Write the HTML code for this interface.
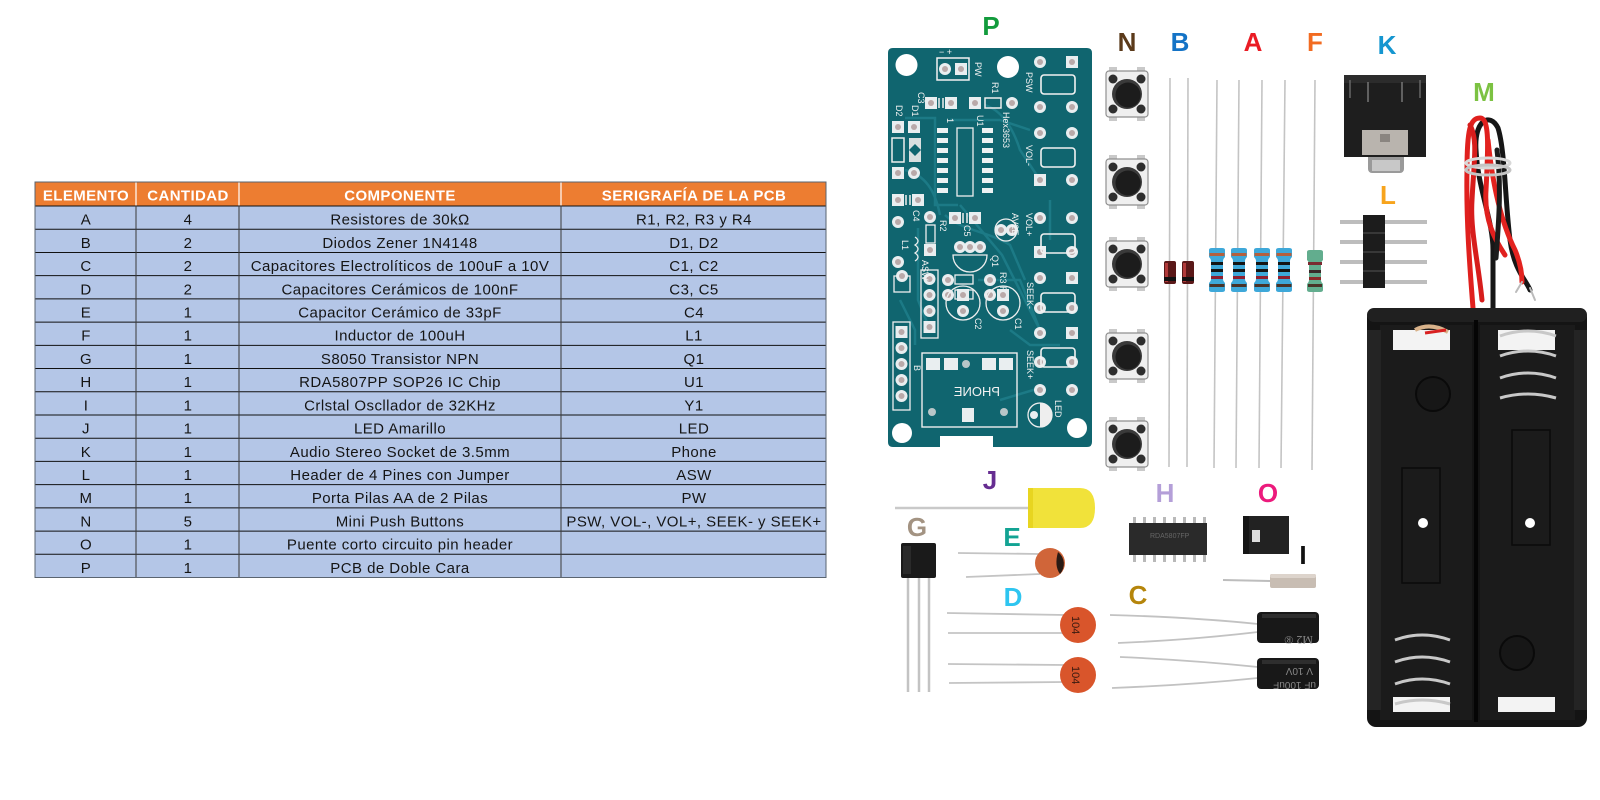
<!DOCTYPE html>
<html><head><meta charset="utf-8"><style>
html,body{margin:0;padding:0;background:#fff;width:1600px;height:800px;overflow:hidden}
svg{display:block}
.h{font-family:"Liberation Sans",sans-serif;font-weight:bold;font-size:15px;fill:#fff;letter-spacing:0.4px}
.t{font-family:"Liberation Sans",sans-serif;font-size:15px;fill:#151515;letter-spacing:0.45px}
.lb{font-family:"Liberation Sans",sans-serif;font-weight:bold;font-size:26px}
.sk{font-family:"Liberation Sans",sans-serif;font-size:9px;fill:#f2f2f2}
</style></head><body>
<svg width="1600" height="800" viewBox="0 0 1600 800" xmlns="http://www.w3.org/2000/svg">
<defs>
<g id="btn">
<rect x="-18" y="-27" width="8" height="5" fill="#c9c9c9"/>
<rect x="10" y="-27" width="8" height="5" fill="#c9c9c9"/>
<rect x="-18" y="22" width="8" height="5" fill="#c9c9c9"/>
<rect x="10" y="22" width="8" height="5" fill="#c9c9c9"/>
<rect x="-21" y="-23" width="42" height="46" rx="3" fill="#efefef" stroke="#8f8f8f" stroke-width="1.2"/>
<circle cx="-14" cy="-15" r="4.5" fill="#2e2e2e"/>
<circle cx="14" cy="-15" r="4.5" fill="#2e2e2e"/>
<circle cx="-14" cy="15" r="4.5" fill="#2e2e2e"/>
<circle cx="14" cy="15" r="4.5" fill="#2e2e2e"/>
<circle r="15" fill="#3a3a3a"/>
<circle r="12.5" cx="1" cy="1" fill="#1c1c1c"/>
</g>
<g id="res">
<path d="M-8,-20 Q-8,-22 -5,-22 H5 Q8,-22 8,-20 V-13 Q6,-11 6,-9 V9 Q6,11 8,13 V20 Q8,22 5,22 H-5 Q-8,22 -8,20 V13 Q-6,11 -6,9 V-9 Q-6,-11 -8,-13Z" fill="#3ea8d9"/>
<rect x="-7.5" y="-17" width="15" height="3" fill="#b4603e"/>
<rect x="-6" y="-8" width="12" height="3" fill="#141414"/>
<rect x="-6" y="-1" width="12" height="3" fill="#141414"/>
<rect x="-6" y="6" width="12" height="3" fill="#8e1f30"/>
<rect x="-7.5" y="14" width="15" height="3" fill="#4a3328"/>
</g>
<g id="pad"><circle r="6" fill="#e9eef0"/><circle r="3" fill="#b9a9a9"/></g>
<g id="sq"><rect x="-6" y="-6" width="12" height="12" fill="#e9eef0"/><circle r="3" fill="#b9a9a9"/></g>
<g id="bo"><rect x="-17" y="-9" width="34" height="19" rx="3" fill="none" stroke="#f2f2f2" stroke-width="1.6"/></g>
</defs>

<!-- ================= TABLE ================= -->
<rect x="35" y="182" width="791" height="24" fill="#ed7d31"/>
<rect x="35" y="206" width="791" height="371.5" fill="#b4c6e7"/>
<g stroke="#ffffff" stroke-width="1.2">
<line x1="136" y1="182" x2="136" y2="206"/><line x1="239" y1="182" x2="239" y2="206"/><line x1="561" y1="182" x2="561" y2="206"/>
</g>
<g stroke="#111" stroke-width="1">
<line x1="35" y1="206" x2="826" y2="206"/>
<line x1="35" y1="229.22" x2="826" y2="229.22"/>
<line x1="35" y1="252.44" x2="826" y2="252.44"/>
<line x1="35" y1="275.66" x2="826" y2="275.66"/>
<line x1="35" y1="298.88" x2="826" y2="298.88"/>
<line x1="35" y1="322.1" x2="826" y2="322.1"/>
<line x1="35" y1="345.32" x2="826" y2="345.32"/>
<line x1="35" y1="368.54" x2="826" y2="368.54"/>
<line x1="35" y1="391.76" x2="826" y2="391.76"/>
<line x1="35" y1="414.98" x2="826" y2="414.98"/>
<line x1="35" y1="438.2" x2="826" y2="438.2"/>
<line x1="35" y1="461.42" x2="826" y2="461.42"/>
<line x1="35" y1="484.64" x2="826" y2="484.64"/>
<line x1="35" y1="507.86" x2="826" y2="507.86"/>
<line x1="35" y1="531.08" x2="826" y2="531.08"/>
<line x1="35" y1="554.3" x2="826" y2="554.3"/>
</g>
<g stroke="#3a3a3a" stroke-width="1">
<line x1="136" y1="206" x2="136" y2="577.5"/><line x1="239" y1="206" x2="239" y2="577.5"/><line x1="561" y1="206" x2="561" y2="577.5"/>
</g>
<g stroke="#5a6470" stroke-width="1" fill="none">
<rect x="35" y="182" width="791" height="395.5"/>
</g>

<g class="h" text-anchor="middle">
<text x="86" y="200.7">ELEMENTO</text>
<text x="188" y="200.7">CANTIDAD</text>
<text x="400" y="200.7">COMPONENTE</text>
<text x="694" y="200.7">SERIGRAFÍA DE LA PCB</text>
</g>
<g class="t" text-anchor="middle">
<text x="86" y="224.6">A</text><text x="188" y="224.6">4</text><text x="400" y="224.6">Resistores de 30kΩ</text><text x="694" y="224.6">R1, R2, R3 y R4</text>
<text x="86" y="247.8">B</text><text x="188" y="247.8">2</text><text x="400" y="247.8">Diodos Zener 1N4148</text><text x="694" y="247.8">D1, D2</text>
<text x="86" y="271">C</text><text x="188" y="271">2</text><text x="400" y="271">Capacitores Electrolíticos de 100uF a 10V</text><text x="694" y="271">C1, C2</text>
<text x="86" y="294.3">D</text><text x="188" y="294.3">2</text><text x="400" y="294.3">Capacitores Cerámicos de 100nF</text><text x="694" y="294.3">C3, C5</text>
<text x="86" y="317.5">E</text><text x="188" y="317.5">1</text><text x="400" y="317.5">Capacitor Cerámico de 33pF</text><text x="694" y="317.5">C4</text>
<text x="86" y="340.7">F</text><text x="188" y="340.7">1</text><text x="400" y="340.7">Inductor de 100uH</text><text x="694" y="340.7">L1</text>
<text x="86" y="363.9">G</text><text x="188" y="363.9">1</text><text x="400" y="363.9">S8050 Transistor NPN</text><text x="694" y="363.9">Q1</text>
<text x="86" y="387.1">H</text><text x="188" y="387.1">1</text><text x="400" y="387.1">RDA5807PP SOP26 IC Chip</text><text x="694" y="387.1">U1</text>
<text x="86" y="410.4">I</text><text x="188" y="410.4">1</text><text x="400" y="410.4">Crlstal Oscllador de 32KHz</text><text x="694" y="410.4">Y1</text>
<text x="86" y="433.6">J</text><text x="188" y="433.6">1</text><text x="400" y="433.6">LED Amarillo</text><text x="694" y="433.6">LED</text>
<text x="86" y="456.8">K</text><text x="188" y="456.8">1</text><text x="400" y="456.8">Audio Stereo Socket de 3.5mm</text><text x="694" y="456.8">Phone</text>
<text x="86" y="480">L</text><text x="188" y="480">1</text><text x="400" y="480">Header de 4 Pines con Jumper</text><text x="694" y="480">ASW</text>
<text x="86" y="503.2">M</text><text x="188" y="503.2">1</text><text x="400" y="503.2">Porta Pilas AA de 2 Pilas</text><text x="694" y="503.2">PW</text>
<text x="86" y="526.5">N</text><text x="188" y="526.5">5</text><text x="400" y="526.5">Mini Push Buttons</text><text x="694" y="526.5">PSW, VOL-, VOL+, SEEK- y SEEK+</text>
<text x="86" y="549.7">O</text><text x="188" y="549.7">1</text><text x="400" y="549.7">Puente corto circuito pin header</text>
<text x="86" y="572.9">P</text><text x="188" y="572.9">1</text><text x="400" y="572.9">PCB de Doble Cara</text>
</g>

<!-- ================= PCB ================= -->
<path d="M893,48 H1087 Q1092,48 1092,53 V442 Q1092,447 1087,447 H993 V436 H940 V447 H893 Q888,447 888,442 V53 Q888,48 893,48Z" fill="#10656f"/>
<g stroke="#1c7a86" stroke-width="2.5" fill="none">
<path d="M905,118 H935 V205 H958"/>
<path d="M985,105 C1000,110 1012,125 1020,150 L1040,180"/>
<path d="M960,205 L1002,255 L1040,330"/>
<path d="M978,280 H1020 L1042,335"/>
<path d="M918,228 V300 L930,330"/>
<path d="M945,215 C960,230 990,232 1010,245 L1025,280"/>
<path d="M900,300 L915,330 V345"/>
<path d="M1010,330 L1030,345 H1060"/>
<path d="M950,120 H1000 L1030,130"/>
<path d="M905,170 C925,175 935,190 940,215"/>
<path d="M1000,400 L1040,388"/>
<path d="M1050,200 V240"/>
</g>
<circle cx="906.5" cy="65" r="11" fill="#fff"/>
<circle cx="1008" cy="67" r="11" fill="#fff"/>
<circle cx="902" cy="433" r="10" fill="#fff"/>
<circle cx="1077" cy="428" r="10" fill="#fff"/>
<!-- PW -->
<rect x="937" y="58" width="32" height="22" fill="none" stroke="#f2f2f2" stroke-width="1.5"/>
<use href="#pad" x="945" y="69"/><use href="#sq" x="961" y="69"/>
<text class="sk" x="939" y="55">−  +</text>
<text class="sk" transform="translate(975,62) rotate(90)">PW</text>
<!-- C3/R1 row -->
<use href="#sq" x="931" y="103"/><use href="#sq" x="951" y="103"/>
<line x1="939" y1="98" x2="939" y2="108" stroke="#eee" stroke-width="1.5"/><line x1="943" y1="98" x2="943" y2="108" stroke="#eee" stroke-width="1.5"/>
<use href="#sq" x="975" y="103"/><rect x="985" y="98" width="16" height="10" fill="none" stroke="#eee" stroke-width="1.5"/><use href="#pad" x="1012" y="103"/>
<text class="sk" transform="translate(918,92) rotate(90)">C3</text>
<text class="sk" transform="translate(992,82) rotate(90)">R1</text>
<!-- D1 D2 -->
<use href="#sq" x="898" y="127"/><use href="#sq" x="914" y="127"/>
<rect x="892" y="138" width="12" height="24" fill="none" stroke="#eee" stroke-width="1.5"/>
<rect x="909" y="138" width="12" height="24" fill="#d9dfe0"/>
<path d="M909,150 L915,144 L921,150 L915,156Z" fill="#10656f"/>
<use href="#sq" x="898" y="173"/><use href="#pad" x="914" y="173"/>
<text class="sk" transform="translate(896,105) rotate(90)">D2</text>
<text class="sk" transform="translate(912,105) rotate(90)">D1</text>
<!-- IC -->
<g fill="#eef2f3">
<rect x="937" y="128" width="11" height="5"/><rect x="937" y="138" width="11" height="5"/><rect x="937" y="148" width="11" height="5"/><rect x="937" y="158" width="11" height="5"/><rect x="937" y="168" width="11" height="5"/><rect x="937" y="178" width="11" height="5"/><rect x="937" y="188" width="11" height="5"/>
<rect x="982" y="128" width="11" height="5"/><rect x="982" y="138" width="11" height="5"/><rect x="982" y="148" width="11" height="5"/><rect x="982" y="158" width="11" height="5"/><rect x="982" y="168" width="11" height="5"/><rect x="982" y="178" width="11" height="5"/><rect x="982" y="188" width="11" height="5"/>
</g>
<rect x="957" y="128" width="16" height="68" fill="none" stroke="#eee" stroke-width="1.3"/>
<text class="sk" transform="translate(947,118) rotate(90)">1</text>
<text class="sk" transform="translate(977,115) rotate(90)">U1</text>
<text class="sk" transform="translate(1003,112) rotate(90)">Hex3653</text>
<!-- C4, R2 -->
<use href="#sq" x="898" y="200"/><use href="#sq" x="918" y="200"/>
<line x1="906" y1="195" x2="906" y2="205" stroke="#eee" stroke-width="1.5"/><line x1="910" y1="195" x2="910" y2="205" stroke="#eee" stroke-width="1.5"/>
<use href="#pad" x="898" y="222"/><use href="#pad" x="930" y="217"/>
<text class="sk" transform="translate(913,210) rotate(90)">C4</text>
<rect x="926" y="225" width="9" height="18" fill="none" stroke="#eee" stroke-width="1.3"/>
<use href="#sq" x="930" y="250"/>
<text class="sk" transform="translate(940,220) rotate(90)">R2</text>
<path d="M897,235 q4,-6 8,0 q4,-6 8,0 q4,-6 8,0" fill="none" stroke="#eee" stroke-width="1.3" transform="rotate(90 905 245)"/>
<text class="sk" transform="translate(902,240) rotate(90)">L1</text>
<!-- C5 -->
<use href="#sq" x="955" y="218"/><use href="#sq" x="975" y="218"/>
<line x1="963" y1="213" x2="963" y2="223" stroke="#eee" stroke-width="1.5"/><line x1="967" y1="213" x2="967" y2="223" stroke="#eee" stroke-width="1.5"/>
<text class="sk" transform="translate(964,225) rotate(90)">C5</text>
<!-- Y1 -->
<circle cx="1006" cy="230" r="11" fill="none" stroke="#eee" stroke-width="1.3"/>
<use href="#pad" x="1001" y="230"/><use href="#pad" x="1012" y="230"/>
<text class="sk" transform="translate(1012,213) rotate(90)">AV2E</text>
<!-- Q1 -->
<path d="M953,255 A17,17 0 1 0 987,255 Z" fill="none" stroke="#eee" stroke-width="1.3"/>
<use href="#pad" x="960" y="247"/><use href="#pad" x="970" y="247"/><use href="#pad" x="980" y="247"/>
<text class="sk" transform="translate(992,255) rotate(90)">Q1</text>
<!-- R3 R4 -->
<use href="#pad" x="948" y="280"/><rect x="955" y="275" width="18" height="9" fill="none" stroke="#eee" stroke-width="1.3"/><use href="#pad" x="990" y="280"/>
<use href="#pad" x="948" y="295"/><rect x="955" y="290" width="18" height="9" fill="none" stroke="#eee" stroke-width="1.3"/><use href="#pad" x="990" y="295"/>
<text class="sk" transform="translate(1000,272) rotate(90)">R3 R4</text>
<!-- C1 C2 -->
<circle cx="963" cy="303" r="17" fill="none" stroke="#eee" stroke-width="1.3"/>
<use href="#sq" x="963" y="295"/><use href="#pad" x="963" y="311"/>
<circle cx="1003" cy="303" r="17" fill="none" stroke="#eee" stroke-width="1.3"/>
<use href="#sq" x="1003" y="295"/><use href="#pad" x="1003" y="311"/>
<text class="sk" transform="translate(975,318) rotate(90)">C2</text>
<text class="sk" transform="translate(1015,318) rotate(90)">C1</text>
<!-- ASW header -->
<rect x="921" y="270" width="17" height="68" fill="none" stroke="#eee" stroke-width="1.3"/>
<use href="#pad" x="929.5" y="279"/><use href="#pad" x="929.5" y="295"/><use href="#pad" x="929.5" y="311"/><use href="#sq" x="929.5" y="327"/>
<text class="sk" transform="translate(922,260) rotate(90)">ASW</text>
<!-- A and B headers -->
<rect x="894" y="276" width="16" height="16" fill="none" stroke="#eee" stroke-width="1.3"/><use href="#pad" x="902" y="276"/>
<use href="#pad" x="898" y="262"/>
<rect x="893" y="322" width="17" height="88" fill="none" stroke="#eee" stroke-width="1.3"/>
<use href="#sq" x="901.5" y="332"/><use href="#pad" x="901.5" y="348"/><use href="#pad" x="901.5" y="364"/><use href="#pad" x="901.5" y="380"/><use href="#pad" x="901.5" y="396"/>
<text class="sk" transform="translate(914,365) rotate(90)">B</text>
<!-- PHONE -->
<rect x="922" y="353" width="95" height="74" fill="none" stroke="#eee" stroke-width="1.4"/>
<rect x="926" y="358" width="14" height="12" fill="#e9eef0"/><rect x="944" y="358" width="14" height="12" fill="#e9eef0"/>
<circle cx="966" cy="364" r="4" fill="#b9c6c8"/>
<rect x="982" y="358" width="14" height="12" fill="#e9eef0"/><rect x="999" y="358" width="14" height="12" fill="#e9eef0"/>
<text transform="translate(1000,396) scale(-1,1)" font-family="Liberation Sans,sans-serif" font-size="13" fill="#f2f2f2">PHONE</text>
<rect x="962" y="408" width="12" height="14" fill="#e9eef0"/>
<circle cx="932" cy="412" r="4" fill="#b9c6c8"/><circle cx="1004" cy="412" r="4" fill="#b9c6c8"/>
<!-- right column pads -->
<use href="#pad" x="1040" y="62"/><use href="#sq" x="1072" y="62"/>
<use href="#pad" x="1040" y="107"/><use href="#pad" x="1072" y="107"/>
<use href="#pad" x="1040" y="133"/><use href="#pad" x="1072" y="133"/>
<use href="#sq" x="1040" y="180"/><use href="#pad" x="1072" y="180"/>
<use href="#pad" x="1040" y="218"/><use href="#pad" x="1072" y="218"/>
<use href="#sq" x="1040" y="252"/><use href="#pad" x="1072" y="252"/>
<use href="#pad" x="1040" y="278"/><use href="#sq" x="1072" y="278"/>
<use href="#pad" x="1040" y="308"/><use href="#pad" x="1072" y="308"/>
<use href="#pad" x="1040" y="333"/><use href="#sq" x="1072" y="333"/>
<use href="#pad" x="1040" y="362"/><use href="#pad" x="1072" y="362"/>
<use href="#pad" x="1040" y="390"/><use href="#pad" x="1072" y="390"/>
<use href="#bo" x="1058" y="84"/><use href="#bo" x="1058" y="157"/><use href="#bo" x="1058" y="243"/><use href="#bo" x="1058" y="302"/><use href="#bo" x="1058" y="357"/>
<text class="sk" transform="translate(1026,72) rotate(90)">PSW</text>
<text class="sk" transform="translate(1026,145) rotate(90)">VOL-</text>
<text class="sk" transform="translate(1026,213) rotate(90)">VOL+</text>
<text class="sk" transform="translate(1027,282) rotate(90)">SEEK-</text>
<text class="sk" transform="translate(1027,350) rotate(90)">SEEK+</text>
<text class="sk" transform="translate(1055,400) rotate(90)">LED</text>
<!-- LED footprint -->
<circle cx="1040" cy="415" r="12" fill="none" stroke="#eee" stroke-width="1.3"/>
<path d="M1040,403 A12,12 0 0 1 1040,427Z" fill="#eee"/>
<circle cx="1034" cy="415" r="4" fill="#e9eef0"/>

<!-- ================= LABELS ================= -->
<g class="lb" text-anchor="middle">
<text x="991" y="35" fill="#129b3c">P</text>
<text x="1127" y="51" fill="#5b3a1a">N</text>
<text x="1180" y="51" fill="#1473c6">B</text>
<text x="1253" y="51" fill="#ea1c24">A</text>
<text x="1315" y="51" fill="#f26b21">F</text>
<text x="1387" y="54" fill="#1596d0">K</text>
<text x="1484" y="101" fill="#7cc242">M</text>
<text x="1388" y="204" fill="#f7a41d">L</text>
<text x="990" y="489" fill="#662d91">J</text>
<text x="917" y="536" fill="#a39382">G</text>
<text x="1012" y="546" fill="#12a393">E</text>
<text x="1013" y="606" fill="#2ec5f0">D</text>
<text x="1165" y="502" fill="#b49fd8">H</text>
<text x="1268" y="502" fill="#ec1a7c">O</text>
<text x="1303" y="564" fill="#111">I</text>
<text x="1138" y="604" fill="#b5850b">C</text>
</g>

<!-- ================= N buttons ================= -->
<use href="#btn" x="1127" y="94"/>
<use href="#btn" x="1127" y="182"/>
<use href="#btn" x="1127" y="264"/>
<use href="#btn" x="1127" y="356"/>
<use href="#btn" x="1127" y="444"/>

<!-- ================= leads ================= -->
<g stroke="#c4c4c4" stroke-width="1.6">
<line x1="1170" y1="78" x2="1169" y2="467"/>
<line x1="1188" y1="78" x2="1187" y2="467"/>
<line x1="1217" y1="80" x2="1214" y2="468"/>
<line x1="1239" y1="80" x2="1236" y2="468"/>
<line x1="1262" y1="80" x2="1259" y2="468"/>
<line x1="1285" y1="80" x2="1281" y2="468"/>
<line x1="1315" y1="80" x2="1312" y2="470"/>
</g>
<!-- B diodes -->
<rect x="1164" y="261" width="12" height="23" rx="2" fill="#5a1818"/><rect x="1165" y="263" width="3" height="19" fill="#b03a3a"/><rect x="1164" y="277" width="12" height="4" fill="#111"/>
<rect x="1182" y="261" width="12" height="23" rx="2" fill="#5a1818"/><rect x="1183" y="263" width="3" height="19" fill="#b03a3a"/><rect x="1182" y="277" width="12" height="4" fill="#111"/>
<!-- A resistors -->
<use href="#res" x="1217" y="270"/>
<use href="#res" x="1239" y="270"/>
<use href="#res" x="1262" y="270"/>
<use href="#res" x="1284" y="270"/>
<!-- F inductor -->
<path d="M1307,252 Q1307,250 1310,250 H1320 Q1323,250 1323,252 V260 Q1321,262 1321,264 V280 Q1321,282 1323,284 V290 Q1323,292 1320,292 H1310 Q1307,292 1307,290 V284 Q1309,282 1309,280 V264 Q1309,262 1307,260Z" fill="#62ad8e"/>
<rect x="1308" y="262" width="14" height="3" fill="#7a2a30"/><rect x="1309" y="270" width="12" height="3" fill="#3a2a2a"/><rect x="1309" y="277" width="12" height="3" fill="#8a2a2a"/><rect x="1308" y="284" width="14" height="3" fill="#4a3328"/>

<!-- ================= K jack ================= -->
<rect x="1368" y="145" width="36" height="28" rx="4" fill="#9a9a9a"/>
<rect x="1372" y="160" width="28" height="11" fill="#c8c8c8"/>
<rect x="1344" y="75" width="82" height="82" fill="#1e1e1e"/>
<rect x="1344" y="75" width="82" height="8" fill="#2c2c2c"/>
<rect x="1362" y="130" width="46" height="25" fill="#b9b4ae"/>
<rect x="1380" y="134" width="10" height="8" fill="#8a8580"/>
<line x1="1368" y1="82" x2="1368" y2="102" stroke="#777" stroke-width="1.5"/>
<line x1="1402" y1="82" x2="1402" y2="102" stroke="#777" stroke-width="1.5"/>
<line x1="1350" y1="80" x2="1350" y2="98" stroke="#666" stroke-width="1.5"/>
<line x1="1420" y1="80" x2="1420" y2="98" stroke="#666" stroke-width="1.5"/>

<!-- ================= L header ================= -->
<g stroke="#bdbdbd" stroke-width="4">
<line x1="1340" y1="222" x2="1427" y2="222"/>
<line x1="1340" y1="242" x2="1427" y2="242"/>
<line x1="1340" y1="262" x2="1427" y2="262"/>
<line x1="1340" y1="282" x2="1427" y2="282"/>
</g>
<rect x="1363" y="215" width="22" height="73" fill="#1c1c1c"/>
<g stroke="#555" stroke-width="1"><line x1="1363" y1="233" x2="1385" y2="233"/><line x1="1363" y1="252" x2="1385" y2="252"/><line x1="1363" y1="271" x2="1385" y2="271"/></g>

<!-- ================= M battery holder ================= -->
<g fill="none" stroke-linecap="round">
<path d="M1493,308 V250 C1493,220 1478,190 1476,150 C1474,120 1490,112 1498,128 C1505,150 1505,200 1510,240 C1514,270 1526,280 1530,290" stroke="#161616" stroke-width="5"/>
<path d="M1473,308 C1470,270 1466,220 1467,170 C1467,130 1470,118 1480,118 C1490,118 1488,150 1486,190 C1484,220 1495,240 1505,255" stroke="#e0201e" stroke-width="5"/>
<path d="M1482,300 C1478,260 1470,230 1472,200 C1474,160 1478,140 1470,125" stroke="#d71d1c" stroke-width="5"/>
<path d="M1488,140 C1492,180 1500,220 1515,250 C1520,262 1522,272 1522,282" stroke="#e3231f" stroke-width="5"/>
<path d="M1497,150 C1502,190 1498,230 1496,258" stroke="#1c1c1c" stroke-width="5"/>
<path d="M1530,288 L1535,300" stroke="#bbb" stroke-width="2"/>
<path d="M1522,282 L1516,292" stroke="#bbb" stroke-width="2"/>
</g>
<ellipse cx="1488" cy="163" rx="22" ry="5" fill="none" stroke="#d8d8d8" stroke-width="3"/>
<ellipse cx="1488" cy="170" rx="22" ry="5" fill="none" stroke="#c4c4c4" stroke-width="3"/>

<rect x="1367" y="308" width="220" height="419" rx="9" fill="#141414"/>
<rect x="1367" y="308" width="220" height="14" rx="7" fill="#202020"/>
<rect x="1380" y="325" width="92" height="395" fill="#1b1b1b"/>
<rect x="1480" y="325" width="95" height="395" fill="#1b1b1b"/>
<rect x="1367" y="330" width="14" height="380" fill="#242424"/>
<rect x="1574" y="330" width="13" height="380" fill="#242424"/>
<line x1="1476" y1="320" x2="1476" y2="722" stroke="#050505" stroke-width="4"/>
<rect x="1393" y="330" width="57" height="20" fill="#f3f3f3"/>
<rect x="1498" y="330" width="57" height="20" fill="#f3f3f3"/>
<rect x="1393" y="697" width="57" height="15" fill="#f3f3f3"/>
<rect x="1498" y="697" width="57" height="15" fill="#f3f3f3"/>
<path d="M1415,330 Q1430,322 1448,332" stroke="#d8b28a" stroke-width="4" fill="none"/>
<path d="M1425,333 L1446,330" stroke="#d82020" stroke-width="3"/>
<g fill="none" stroke="#c8c8c8" stroke-width="3">
<path d="M1500,336 Q1528,326 1556,336"/>
<path d="M1500,356 Q1528,346 1556,356"/>
<path d="M1500,378 Q1528,368 1556,378"/>
<path d="M1500,398 Q1528,390 1556,398"/>
<path d="M1395,640 Q1422,630 1450,640"/>
<path d="M1395,662 Q1422,652 1450,662"/>
<path d="M1395,684 Q1422,674 1450,684"/>
<path d="M1395,704 Q1422,696 1450,704"/>
</g>
<circle cx="1433" cy="394" r="17" fill="#171717" stroke="#0a0a0a" stroke-width="2"/>
<circle cx="1517" cy="653" r="17" fill="#171717" stroke="#0a0a0a" stroke-width="2"/>
<rect x="1402" y="468" width="38" height="115" fill="none" stroke="#0b0b0b" stroke-width="1.5"/>
<rect x="1512" y="430" width="38" height="115" fill="none" stroke="#0b0b0b" stroke-width="1.5"/>
<circle cx="1423" cy="523" r="5" fill="#fff"/>
<circle cx="1530" cy="523" r="5" fill="#fff"/>

<!-- ================= J LED ================= -->
<line x1="895" y1="508" x2="1030" y2="508" stroke="#c9c9c9" stroke-width="2.5"/>
<path d="M1028,488 H1080 Q1095,488 1095,508 Q1095,528 1080,528 H1028 V522 H1033 V494 H1028Z" fill="#f1e23a"/>
<rect x="1028" y="488" width="5" height="40" fill="#e8d520"/>

<!-- ================= G transistor ================= -->
<g stroke="#c3c3c3" stroke-width="2.5">
<line x1="908" y1="577" x2="908" y2="692"/>
<line x1="919" y1="577" x2="919" y2="692"/>
<line x1="929" y1="577" x2="929" y2="692"/>
</g>
<rect x="901" y="543" width="35" height="35" rx="2" fill="#1a1a1a"/>
<rect x="903" y="546" width="8" height="28" fill="#2a2a2a"/>

<!-- ================= E cap ================= -->
<g stroke="#c4c4c4" stroke-width="1.8">
<line x1="958" y1="553" x2="1040" y2="554"/>
<line x1="966" y1="577" x2="1040" y2="574"/>
</g>
<circle cx="1050" cy="563" r="15" fill="#d06539"/>
<path d="M1058,552 A15,15 0 0 1 1060,574 Q1054,566 1058,552Z" fill="#2a1a14"/>

<!-- ================= D caps ================= -->
<g stroke="#c4c4c4" stroke-width="1.8">
<line x1="947" y1="613" x2="1065" y2="615"/>
<line x1="948" y1="633" x2="1065" y2="633"/>
<line x1="948" y1="664" x2="1065" y2="665"/>
<line x1="949" y1="683" x2="1065" y2="682"/>
</g>
<circle cx="1078" cy="625" r="18" fill="#d9552b"/>
<circle cx="1078" cy="675" r="18" fill="#d9552b"/>
<text transform="translate(1072,616) rotate(90)" font-family="Liberation Sans,sans-serif" font-size="11" fill="#3a1a10">104</text>
<text transform="translate(1072,666) rotate(90)" font-family="Liberation Sans,sans-serif" font-size="11" fill="#3a1a10">104</text>

<!-- ================= H IC ================= -->
<g fill="#b9b9b9">
<rect x="1133" y="517" width="3" height="7"/><rect x="1143" y="517" width="3" height="7"/><rect x="1153" y="517" width="3" height="7"/><rect x="1163" y="517" width="3" height="7"/><rect x="1173" y="517" width="3" height="7"/><rect x="1183" y="517" width="3" height="7"/><rect x="1193" y="517" width="3" height="7"/><rect x="1203" y="517" width="3" height="7"/>
<rect x="1133" y="554" width="3" height="8"/><rect x="1143" y="554" width="3" height="8"/><rect x="1153" y="554" width="3" height="8"/><rect x="1163" y="554" width="3" height="8"/><rect x="1173" y="554" width="3" height="8"/><rect x="1183" y="554" width="3" height="8"/><rect x="1193" y="554" width="3" height="8"/><rect x="1203" y="554" width="3" height="8"/>
</g>
<rect x="1129" y="523" width="78" height="32" fill="#2a2a2a"/>
<text x="1150" y="538" font-family="Liberation Sans,sans-serif" font-size="7" fill="#666">RDA5807FP</text>

<!-- ================= O jumper ================= -->
<rect x="1243" y="516" width="46" height="38" fill="#222"/>
<rect x="1252" y="530" width="8" height="12" fill="#ddd"/>
<rect x="1243" y="516" width="6" height="38" fill="#151515"/>

<!-- ================= I crystal ================= -->
<line x1="1223" y1="580" x2="1270" y2="581" stroke="#bdbdbd" stroke-width="2"/>
<rect x="1270" y="574" width="46" height="14" rx="2" fill="#c8bdb3"/>
<rect x="1270" y="574" width="46" height="4" rx="2" fill="#ddd4cc"/>

<!-- ================= C electrolytic caps ================= -->
<g stroke="#c2c2c2" stroke-width="1.8" fill="none">
<path d="M1110,615 Q1190,617 1258,624"/>
<path d="M1118,643 Q1190,640 1258,632"/>
<path d="M1120,657 Q1190,660 1258,667"/>
<path d="M1112,688 Q1190,685 1258,678"/>
</g>
<rect x="1257" y="612" width="62" height="31" rx="4" fill="#181818"/>
<rect x="1257" y="658" width="62" height="31" rx="4" fill="#181818"/>
<rect x="1262" y="614" width="54" height="4" fill="#2e2e2e"/>
<rect x="1262" y="660" width="54" height="4" fill="#2e2e2e"/>
<text transform="translate(1313,636) scale(-1,-1)" font-family="Liberation Serif,serif" font-size="12" fill="#888">M2 ®</text>
<text transform="translate(1313,668) scale(-1,-1)" font-family="Liberation Sans,sans-serif" font-size="10" fill="#888">V 10V</text>
<text transform="translate(1316,682) scale(-1,-1)" font-family="Liberation Sans,sans-serif" font-size="10" fill="#888">uF 100uF</text>
</svg>
</body></html>
